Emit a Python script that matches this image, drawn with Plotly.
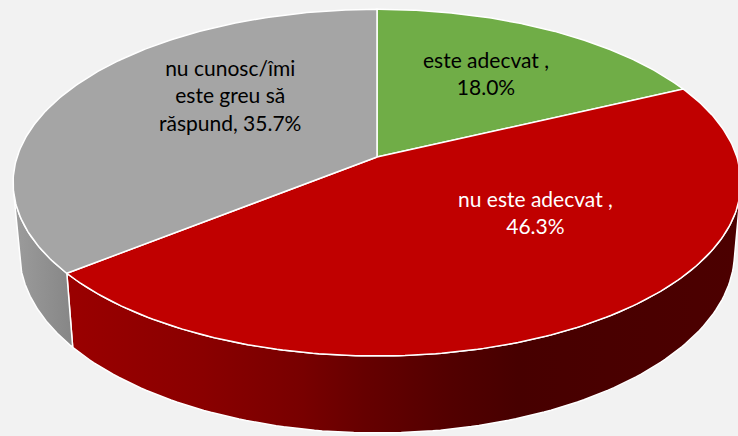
import numpy as np
import plotly.graph_objects as go

# ---- data ----
categories = ["este adecvat ,", "nu este adecvat ,", "nu cunosc/îmi este greu să răspund,"]
values = [18.0, 46.3, 35.7]
label_lines = [["este adecvat ,", "{v}"], ["nu este adecvat ,", "{v}"],
               ["nu cunosc/îmi", "este greu să", "răspund, {v}"]]

# ---- styles ----
top_colors = ["#70AD47", "#C00000", "#A5A5A5"]
wall_scales = [
    [[0, "#5a8c38"], [1, "#3f6a25"]],
    [[0, "#9a0000"], [0.2, "#8a0000"], [0.35, "#780000"], [0.44, "#660000"],
     [0.57, "#520000"], [0.67, "#470000"], [1, "#4c0000"]],
    [[0, "#9c9c9c"], [1, "#868686"]],
]
text_colors = ["black", "white", "black"]
label_pos = [(486, 73), (535, 212), (230, 95)]

# ---- 3D projection parameters (view of a tilted disc) ----
CX, CY = 377, 157
F = 2145.0
phi = np.deg2rad(28.1)
S, C = np.sin(phi), np.cos(phi)
D = 5.96
H = 0.222


def proj(theta_deg, r, z):
    t = np.deg2rad(theta_deg)
    X = r * np.sin(t)
    Y = r * np.cos(t)
    depth = D + Y * C - z * S
    v = Y * S + z * C
    return CX + F * X / depth, CY - F * v / depth


total = sum(values)
bounds = np.concatenate([[0], np.cumsum(values) / total * 360.0])

fig = go.Figure()

# visible range of the outer wall
vis = np.rad2deg(np.arccos(-1.0 / (D * C)))
vis_lo, vis_hi = vis, 360 - vis

for i in range(len(values)):
    a, b = bounds[i], bounds[i + 1]
    lo, hi = max(a, vis_lo), min(b, vis_hi)
    if hi <= lo:
        continue
    th = np.linspace(lo, hi, 120)
    xt, yt = proj(th, 1.0, 0.0)
    xb, yb = proj(th[::-1], 1.0, -H)
    xs = np.concatenate([xt, xb, xt[:1]])
    ys = np.concatenate([yt, yb, yt[:1]])
    fig.add_trace(go.Scatter(
        x=xs, y=ys, mode="lines", fill="toself",
        fillgradient=dict(type="horizontal", colorscale=wall_scales[i]),
        line=dict(color="white", width=1.5),
        hoverinfo="skip", showlegend=False))

for i in range(len(values)):
    a, b = bounds[i], bounds[i + 1]
    th = np.linspace(a, b, 200)
    xa, ya = proj(th, 1.0, 0.0)
    x0, y0 = proj(0.0, 0.0, 0.0)
    xs = np.concatenate([[x0], xa, [x0]])
    ys = np.concatenate([[y0], ya, [y0]])
    fig.add_trace(go.Scatter(
        x=xs, y=ys, mode="lines", fill="toself", fillcolor=top_colors[i],
        line=dict(color="white", width=1.5),
        name=categories[i], hoverinfo="name", showlegend=False))

for i, v in enumerate(values):
    txt = "<br>".join(l.format(v=f"{v:.1f}%") for l in label_lines[i])
    fig.add_annotation(x=label_pos[i][0], y=label_pos[i][1], text=txt,
                       showarrow=False, xanchor="center", yanchor="middle",
                       font=dict(family="Lato", size=21, color=text_colors[i]))

fig.update_layout(
    width=738, height=436,
    margin=dict(l=0, r=0, t=0, b=0),
    paper_bgcolor="#F2F2F2", plot_bgcolor="#F2F2F2",
    xaxis=dict(range=[0, 738], visible=False, fixedrange=True),
    yaxis=dict(range=[436, 0], visible=False, fixedrange=True),
)

fig.write_html(
    "out.html",
    config={"displayModeBar": False},
    post_script="document.body.style.margin='0';document.body.style.background='#F2F2F2';",
)
